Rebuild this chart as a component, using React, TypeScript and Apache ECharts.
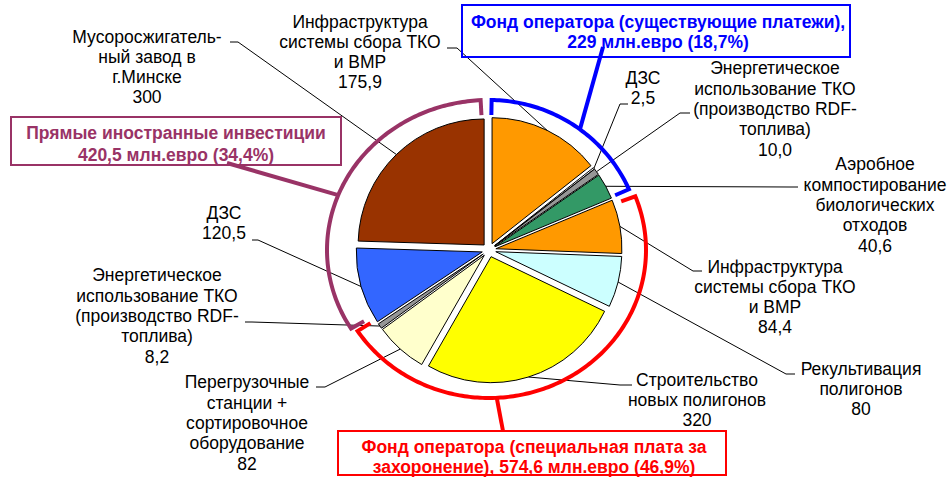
import React, { useEffect, useRef } from "react";
import * as echarts from "echarts";

// ---------- data ----------
const categories: string[] = [
  "Инфраструктура\nсистемы сбора ТКО\nи ВМР",
  "ДЗС",
  "Энергетическое\nиспользование ТКО\n(производство RDF-\nтоплива)",
  "Аэробное\nкомпостирование\nбиологических\nотходов",
  "Инфраструктура\nсистемы сбора ТКО\nи ВМР",
  "Рекультивация\nполигонов",
  "Строительство\nновых полигонов",
  "Перегрузочные\nстанции +\nсортировочное\nоборудование",
  "Энергетическое\nиспользование ТКО\n(производство RDF-\nтоплива)",
  "ДЗС",
  "Мусоросжигатель-\nный завод в\nг.Минске",
];
const values: number[] = [175.9, 2.5, 10.0, 40.6, 84.4, 80, 320, 82, 8.2, 120.5, 300];
const valueDecimals: number[] = [1, 1, 1, 1, 1, 0, 0, 0, 1, 1, 0];
// which fund each slice belongs to
const fundOfSlice: number[] = [0, 0, 0, 0, 1, 1, 1, 1, 1, 2, 2];
const fundTitles: string[] = [
  "Фонд оператора (существующие платежи),\n{v} млн.евро ({p}%)",
  "Фонд оператора (специальная плата за\nзахоронение), {v} млн.евро ({p}%)",
  "Прямые иностранные инвестиции\n{v} млн.евро ({p}%)",
];

// ---------- styles / layout ----------
const sliceColors = ["#FF9900", "#FFFFFF", "#969696", "#339966", "#FF9900", "#CCFFFF", "#FFFF00", "#FFFFCC", "#969696", "#3366FF", "#993300"];
const fundColors = ["#0000FF", "#FF0000", "#993366"];
const FONT = '"Liberation Sans", Arial, sans-serif';
const LABEL_SIZE = 17.5;
const LABEL_LH = 20.3;
const CX = 489;
const CY = 250;
const R = 126;
const OFFSET = 7;

const labelPlaces = [
  { x: 360, y: 52, line: [[457, 48], [447, 48]] },
  { x: 643, y: 88, line: [[620, 104], [628, 104]] },
  { x: 775, y: 109, line: [[680, 113], [690, 113]] },
  { x: 875, y: 205, line: [[790, 187], [798, 187]] },
  { x: 775, y: 297, line: [[693, 271], [702, 271]] },
  { x: 861, y: 389, line: [[786, 374], [795, 374]] },
  { x: 697, y: 400, line: [[620, 385], [632, 385]] },
  { x: 247, y: 423, line: [[325, 387], [316, 387]] },
  { x: 157, y: 316, line: [[252, 322], [245, 322]] },
  { x: 224, y: 223, line: [[258, 240], [252, 240]] },
  { x: 147, y: 67, line: [[238, 42], [230, 42]] },
];

const bracketLayout = [
  { rx: 153, ry: 150, d0: 1, d1: -0.8, ptr: 37, ptrEnd: [603, 47] },
  { rx: 157, ry: 148, d0: 2.5, d1: 2, ptr: 177, ptrEnd: [503, 431] },
  { rx: 162, ry: 150, d0: 4, d1: -3.2, ptr: 290, ptrEnd: [227, 163] },
];
const boxLayout = [
  { x: 462, y: 5, w: 388, h: 52, tx: 658, ty: 32, lh: 20 },
  { x: 338, y: 431, w: 388, h: 44, tx: 534, ty: 457, lh: 20 },
  { x: 11, y: 117, w: 330, h: 48, tx: 176, ty: 144, lh: 21.5 },
];

// ---------- helpers ----------
const total = values.reduce((a, b) => a + b, 0);
const startAngles: number[] = [];
const midAngles: number[] = [];
{
  let acc = 0;
  values.forEach((v) => {
    const a0 = (acc / total) * 360;
    acc += v;
    const a1 = (acc / total) * 360;
    startAngles.push(a0);
    midAngles.push((a0 + a1) / 2);
  });
}
const fmtNum = (v: number, d: number) => v.toFixed(d).replace(".", ",");
const fmtSum = (v: number) => {
  const r = Math.round(v * 10) / 10;
  return Number.isInteger(r) ? String(r) : fmtNum(r, 1);
};

const rad = (deg: number) => (deg * Math.PI) / 180;
function ellipseR(rx: number, ry: number, phi: number) {
  const s = Math.sin(rad(phi));
  const c = Math.cos(rad(phi));
  return 1 / Math.sqrt((s / rx) ** 2 + (c / ry) ** 2);
}
function arcPoint(rx: number, ry: number, phi: number, inset = 0) {
  const r = ellipseR(rx, ry, phi) - inset;
  return [CX + r * Math.sin(rad(phi)), CY - r * Math.cos(rad(phi))];
}

function buildLabels() {
  const els: any[] = [];
  values.forEach((v, i) => {
    const place = labelPlaces[i];
    const phi = midAngles[i];
    const anchor = [CX + (R + OFFSET) * Math.sin(rad(phi)), CY - (R + OFFSET) * Math.cos(rad(phi))];
    els.push({
      type: "polyline",
      silent: true,
      z: 5,
      shape: { points: [anchor, place.line[0], place.line[1]] },
      style: { stroke: "#000000", lineWidth: 1, fill: null },
    });
    els.push({
      type: "text",
      silent: true,
      z: 6,
      x: place.x,
      y: place.y,
      style: {
        text: `${categories[i]}\n${fmtNum(v, valueDecimals[i])}`,
        fill: "#000000",
        font: `${LABEL_SIZE}px ${FONT}`,
        lineHeight: LABEL_LH,
        align: "center",
        verticalAlign: "middle",
      },
    });
  });
  return els;
}

function buildFunds() {
  const els: any[] = [];
  fundTitles.forEach((title, g) => {
    const idx = values.map((_, i) => i).filter((i) => fundOfSlice[i] === g);
    const sum = idx.reduce((a, i) => a + values[i], 0);
    const gStart = idx.reduce((a, i) => Math.min(a, startAngles[i]), 360);
    const gEnd = gStart + (sum / total) * 360;
    const b = bracketLayout[g];
    const a0 = gStart + b.d0;
    const a1 = gEnd + b.d1;
    const pts: number[][] = [arcPoint(b.rx, b.ry, a0, 15)];
    const steps = Math.max(2, Math.ceil(a1 - a0));
    for (let k = 0; k <= steps; k++) {
      pts.push(arcPoint(b.rx, b.ry, a0 + ((a1 - a0) * k) / steps));
    }
    pts.push(arcPoint(b.rx, b.ry, a1, 15));
    const color = fundColors[g];
    els.push({
      type: "polyline",
      silent: true,
      z: 10,
      shape: { points: pts },
      style: { stroke: color, lineWidth: 4, fill: null, lineJoin: "miter" },
    });
    const p = arcPoint(b.rx, b.ry, b.ptr);
    els.push({
      type: "line",
      silent: true,
      z: 10,
      shape: { x1: p[0], y1: p[1], x2: b.ptrEnd[0], y2: b.ptrEnd[1] },
      style: { stroke: color, lineWidth: 4 },
    });
    const box = boxLayout[g];
    els.push({
      type: "rect",
      silent: true,
      z: 11,
      shape: { x: box.x, y: box.y, width: box.w, height: box.h },
      style: { fill: null, stroke: color, lineWidth: 2 },
    });
    const text = title
      .replace("{v}", fmtSum(sum))
      .replace("{p}", fmtNum((sum / total) * 100, 1));
    els.push({
      type: "text",
      silent: true,
      z: 12,
      x: box.tx,
      y: box.ty,
      style: {
        text,
        fill: color,
        font: `bold ${LABEL_SIZE}px ${FONT}`,
        lineHeight: box.lh,
        align: "center",
        verticalAlign: "middle",
      },
    });
  });
  return els;
}

export default function App() {
  const ref = useRef<HTMLDivElement>(null);
  useEffect(() => {
    if (!ref.current) return;
    const chart = echarts.init(ref.current, null, { renderer: "svg" });
    chart.setOption({
      animation: false,
      backgroundColor: "#FFFFFF",
      series: [
        {
          type: "pie",
          center: [CX, CY],
          radius: R,
          startAngle: 90,
          clockwise: true,
          selectedMode: "multiple",
          selectedOffset: OFFSET,
          avoidLabelOverlap: false,
          emphasis: { disabled: true },
          itemStyle: { borderColor: "#000000", borderWidth: 1 },
          label: { show: false },
          labelLine: { show: false },
          data: values.map((v, i) => ({
            value: v,
            name: categories[i].replace(/\n/g, " "),
            selected: true,
            itemStyle: { color: sliceColors[i] },
            select: { itemStyle: { color: sliceColors[i], borderColor: "#000000", borderWidth: 1 } },
          })),
        },
      ],
      graphic: { elements: [...buildLabels(), ...buildFunds()] },
    });
    return () => chart.dispose();
  }, []);
  return (
    <div
      ref={ref}
      style={{ position: "absolute", left: 0, top: 0, width: 949, height: 479 }}
    />
  );
}
